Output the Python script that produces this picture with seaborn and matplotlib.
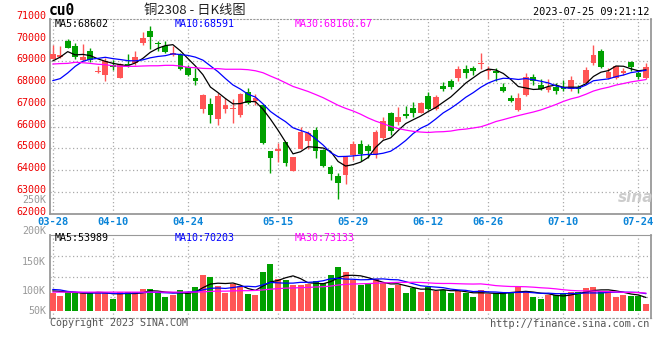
import numpy as np
import pandas as pd
import matplotlib
matplotlib.use("Agg")
import matplotlib.pyplot as plt
import matplotlib.transforms as mtransforms
import seaborn as sns

# trading days shown on the chart
dates = ["03-28", "03-29", "03-30", "03-31",
         "04-03", "04-04", "04-06", "04-07",
         "04-10", "04-11", "04-12", "04-13", "04-14",
         "04-17", "04-18", "04-19", "04-20", "04-21",
         "04-24", "04-25", "04-26", "04-27", "04-28",
         "05-04", "05-05",
         "05-08", "05-09", "05-10", "05-11", "05-12",
         "05-15", "05-16", "05-17", "05-18", "05-19",
         "05-22", "05-23", "05-24", "05-25", "05-26",
         "05-29", "05-30", "05-31", "06-01", "06-02",
         "06-05", "06-06", "06-07", "06-08", "06-09",
         "06-12", "06-13", "06-14", "06-15", "06-16",
         "06-19", "06-20", "06-21",
         "06-26", "06-27", "06-28", "06-29", "06-30",
         "07-03", "07-04", "07-05", "07-06", "07-07",
         "07-10", "07-11", "07-12", "07-13", "07-14",
         "07-17", "07-18", "07-19", "07-20", "07-21",
         "07-24", "07-25"]
tick_dates = ["03-28", "04-10", "04-24", "05-15", "05-29", "06-12", "06-26", "07-10", "07-24"]

open_ = [69127, 69188, 69923, 69709, 69066, 69494, 68514, 68391, 68851, 68238,
         68882, 68912, 69831, 70383, 69862, 69709, 69280, 69280, 68728, 68238,
         66829, 67043, 66369, 66829, 66829, 66522, 67595, 67196, 66982, 64868,
         64868, 65297, 63979, 64990, 65358, 65848, 64944, 64132, 63734, 63765,
         64715, 65205, 65113, 64684, 65481, 66614, 66216, 66584, 66859, 66645,
         67396, 66829, 67871, 68116, 68238, 68637, 68698, 68882, 68545, 68575,
         67840, 67319, 66783, 67442, 68299, 67932, 67687, 67809, 67840, 67748,
         67779, 68024, 68943, 69494, 68238, 68238, 68483, 68974, 68453, 68238]
high = [69740, 69709, 70031, 69847, 69801, 69617, 68774, 69157, 69066, 68912,
        69341, 69464, 70352, 70628, 69954, 69923, 69709, 69403, 68820, 68698,
        67503, 67319, 67534, 67319, 67288, 67530, 67779, 67503, 67043, 64900,
        65251, 65310, 64600, 66002, 65818, 66002, 64990, 64255, 63872, 64660,
        65327, 65404, 65205, 65848, 66431, 66676, 66890, 66951, 67135, 67135,
        67595, 67442, 68054, 68208, 68774, 68851, 68790, 69387, 68774, 68698,
        67993, 67472, 67549, 68468, 68422, 68177, 68177, 67993, 68146, 68315,
        67932, 68728, 69770, 69586, 68698, 68790, 68698, 69004, 68606, 68943]
low = [69100, 69160, 69600, 69127, 69004, 68974, 68453, 68116, 68606, 68220,
       68728, 68851, 69770, 69586, 69494, 69372, 69249, 68621, 68315, 67932,
       66645, 66170, 66093, 66630, 66170, 66431, 67043, 67013, 65205, 63872,
       64378, 64178, 63960, 64980, 64990, 64561, 64132, 63566, 62692, 63382,
       64485, 64439, 64561, 64561, 65450, 65603, 66063, 66400, 66431, 66614,
       66783, 66783, 67656, 67748, 68116, 68238, 68361, 68667, 68208, 68116,
       67595, 67135, 66706, 67396, 67932, 67702, 67595, 67503, 67656, 67656,
       67534, 67993, 68851, 68720, 68177, 68208, 68361, 68575, 68208, 68177]
close = [69341, 69280, 69617, 69188, 69188, 69066, 68545, 69035, 68728, 68882,
         68820, 69188, 70077, 70138, 69801, 69433, 69403, 68667, 68361, 68085,
         67442, 66553, 67411, 66982, 66859, 67503, 67074, 67319, 65266, 64561,
         64990, 64347, 64592, 65756, 65710, 64868, 64178, 63826, 63428, 64653,
         65205, 64745, 64898, 65756, 66247, 65787, 66431, 66492, 66645, 67089,
         66829, 67350, 67717, 67840, 68667, 68453, 68575, 68943, 68606, 68453,
         67656, 67196, 67319, 68269, 68116, 67748, 67809, 67625, 67748, 68146,
         67733, 68606, 69311, 68728, 68514, 68790, 68545, 68728, 68269, 68728]
volume = [72, 62, 79, 72, 79, 72, 79, 72, 49, 79,
          79, 76, 90, 90, 72, 58, 65, 86, 79, 98,
          149, 140, 104, 72, 109, 104, 71, 65, 162, 195,
          133, 127, 105, 105, 109, 123, 116, 149, 181, 161,
          127, 105, 111, 132, 113, 94, 107, 73, 94, 78,
          97, 80, 86, 73, 80, 75, 57, 86, 69, 72,
          72, 78, 97, 82, 57, 49, 65, 65, 69, 79,
          78, 94, 98, 82, 80, 57, 65, 62, 62, 28]  # thousand lots

ma5_head = [69020, 69200, 69450, 69300]
ma10_head = [68116, 68210, 68470, 68775, 69004, 69100, 69140, 69190, 69130]
ma30_head = [68880, 68900, 68910, 68960, 68940, 68910, 68870, 68850, 68800, 68775,
             68775, 68775, 68790, 68800, 68800, 68820, 68820, 68790, 68730, 68710,
             68680, 68670, 68670, 68640, 68640, 68640, 68620, 68570, 68480]
vma5_head = [82, 80, 78, 76]
vma10_head = [88, 86, 80, 77, 75, 74, 73, 73, 72]
vma30_head = [77, 77, 77, 77, 77, 77, 77, 77, 77, 77,
              77, 77, 77, 77, 77, 77, 77, 77, 77, 77,
              78, 80, 81, 81, 82, 83, 83, 84, 86]

price_labels = [71000, 70000, 69000, 68000, 67000, 66000, 65000, 64000, 63000, 62000]
vol_labels = ["250K", "200K", "150K", "100K", "50K"]
ma_main_text = ["MA5:68602", "MA10:68591", "MA30:68160.67"]
ma_vol_text = ["MA5:53989", "MA10:70203", "MA30:73133"]

RED = "#ff5555"
GREEN = "#00a000"
GRID = "#aaaaaa"
MONO = "DejaVu Sans Mono"


def moving_average(values, window, head):
    ma = pd.Series(values, dtype=float).rolling(window).mean().to_numpy()
    ma[:len(head)] = head
    return ma


def style_panel(ax):
    ax.set_facecolor("white")
    for side in ["left", "right", "bottom"]:
        ax.spines[side].set_color("#999999")
        ax.spines[side].set_linewidth(1.3)
    ax.spines["top"].set_color("#999999")
    ax.spines["top"].set_linestyle((0, (1, 2)))
    ax.grid(True, color=GRID, linestyle=(0, (1, 2)), linewidth=0.9)
    ax.tick_params(length=0)
    ax.set_xlabel("")
    ax.set_ylabel("")


def main():
    sns.set_style("white")
    plt.rcParams["font.family"] = ["DejaVu Sans"]

    x = np.arange(len(dates))
    o = np.array(open_, float)
    h = np.array(high, float)
    l = np.array(low, float)
    c = np.array(close, float)
    v = np.array(volume, float) * 1000
    colors = [RED if cc >= oo else GREEN for oo, cc in zip(o, c)]
    tick_pos = [dates.index(d) for d in tick_dates]

    W, H = 660, 360
    fig = plt.figure(figsize=(W / 100, H / 100), dpi=100)
    ax = fig.add_axes([50.3 / W, 1 - 213.5 / H, 600.2 / W, 194.5 / H])
    axv = fig.add_axes([50.3 / W, 1 - 318.3 / H, 600.2 / W, 83.6 / H])

    # --- candles
    ax.vlines(x, l, h, colors=colors, linewidth=1.0, zorder=3)
    body = np.maximum(np.abs(c - o), 35)
    ax.bar(x, body, bottom=np.minimum(o, c), width=0.76, color=colors,
           linewidth=0, zorder=4)

    ma_colors = ["black", "#0000ff", "#ff00ff"]
    for ma, col in zip([moving_average(c, 5, ma5_head),
                        moving_average(c, 10, ma10_head),
                        moving_average(c, 30, ma30_head)], ma_colors):
        sns.lineplot(x=x, y=ma, color=col, linewidth=0.9, ax=ax, zorder=5)

    ax.set_xlim(-0.32, 79.6)
    ax.set_ylim(62010, 70950)
    ax.set_yticks(range(63000, 71000, 1000))
    ax.set_yticklabels([])
    ax.set_xticks(tick_pos)
    ax.set_xticklabels(tick_dates, color="#0a84d8", fontsize=7.5,
                       family=MONO, fontweight="bold")
    style_panel(ax)
    ax.tick_params(axis="x", pad=2.5)

    trans = mtransforms.blended_transform_factory(ax.transAxes, ax.transData)
    trans = mtransforms.offset_copy(trans, fig=fig, x=-4, y=2, units="dots")
    for p in price_labels:
        ax.text(0, p, str(p), transform=trans, ha="right", va="center",
                color="#ee0000", fontsize=7.2, family=MONO, clip_on=False)

    for txt, col, xp in zip(ma_main_text, ma_colors, [55, 175, 295]):
        fig.text(xp / W, 1 - 24 / H, txt, color=col, fontsize=7.2,
                 family=MONO, va="center", ha="left")

    # --- volume
    axv.bar(x, v, width=0.8, color=colors, linewidth=0, zorder=3)
    for ma, col in zip([moving_average(v / 1000, 5, vma5_head),
                        moving_average(v / 1000, 10, vma10_head),
                        moving_average(v / 1000, 30, vma30_head)], ma_colors):
        sns.lineplot(x=x, y=ma * 1000, color=col, linewidth=0.9, ax=axv, zorder=5)
    axv.set_xlim(-0.32, 79.6)
    lo, hi = -31500, 315000
    axv.set_ylim(lo, hi)
    axv.set_yticks(np.linspace(lo, hi, 5)[1:4])
    axv.set_yticklabels([])
    axv.set_xticks(tick_pos)
    axv.set_xticklabels([])
    style_panel(axv)
    axv.spines["top"].set_linestyle("-")
    axv.spines["bottom"].set_linestyle((0, (1, 2)))
    axv.spines["bottom"].set_linewidth(0.9)

    for txt, yp in zip(vol_labels, [200, 231, 262, 291, 311]):
        fig.text(46 / W, 1 - yp / H, txt, color="#999999", fontsize=7.2,
                 family=MONO, ha="right", va="center")
    for txt, col, xp in zip(ma_vol_text, ma_colors, [55, 175, 295]):
        fig.text(xp / W, 1 - 238 / H, txt, color=col, fontsize=7.2,
                 family=MONO, va="center", ha="left")

    # --- header and footer
    fig.text(49 / W, 1 - 10.5 / H, "cu0", fontsize=10.5, fontweight="bold",
             family=MONO, va="center", ha="left", color="black")
    fig.text(195 / W, 1 - 10.5 / H, "铜2308 - 日K线图", fontsize=9.5,
             family=["Noto Sans CJK SC", "DejaVu Sans"], va="center",
             ha="center", color="#222222")
    fig.text(649 / W, 1 - 12 / H, "2023-07-25 09:21:12", fontsize=7.4,
             family=MONO, va="center", ha="right", color="black")
    fig.text(50 / W, 1 - 323.5 / H, "Copyright 2023 SINA.COM", fontsize=7.2,
             family=MONO, va="center", ha="left", color="#555555")
    fig.text(649 / W, 1 - 324 / H, "http://finance.sina.com.cn", fontsize=7.4,
             family=MONO, va="center", ha="right", color="#555555")
    fig.text(636 / W, 1 - 197 / H, "sina", fontsize=11, fontweight="bold",
             style="italic", va="center", ha="center", color="#cccccc")

    fig.savefig("out.png", dpi=100)


if __name__ == "__main__":
    main()
